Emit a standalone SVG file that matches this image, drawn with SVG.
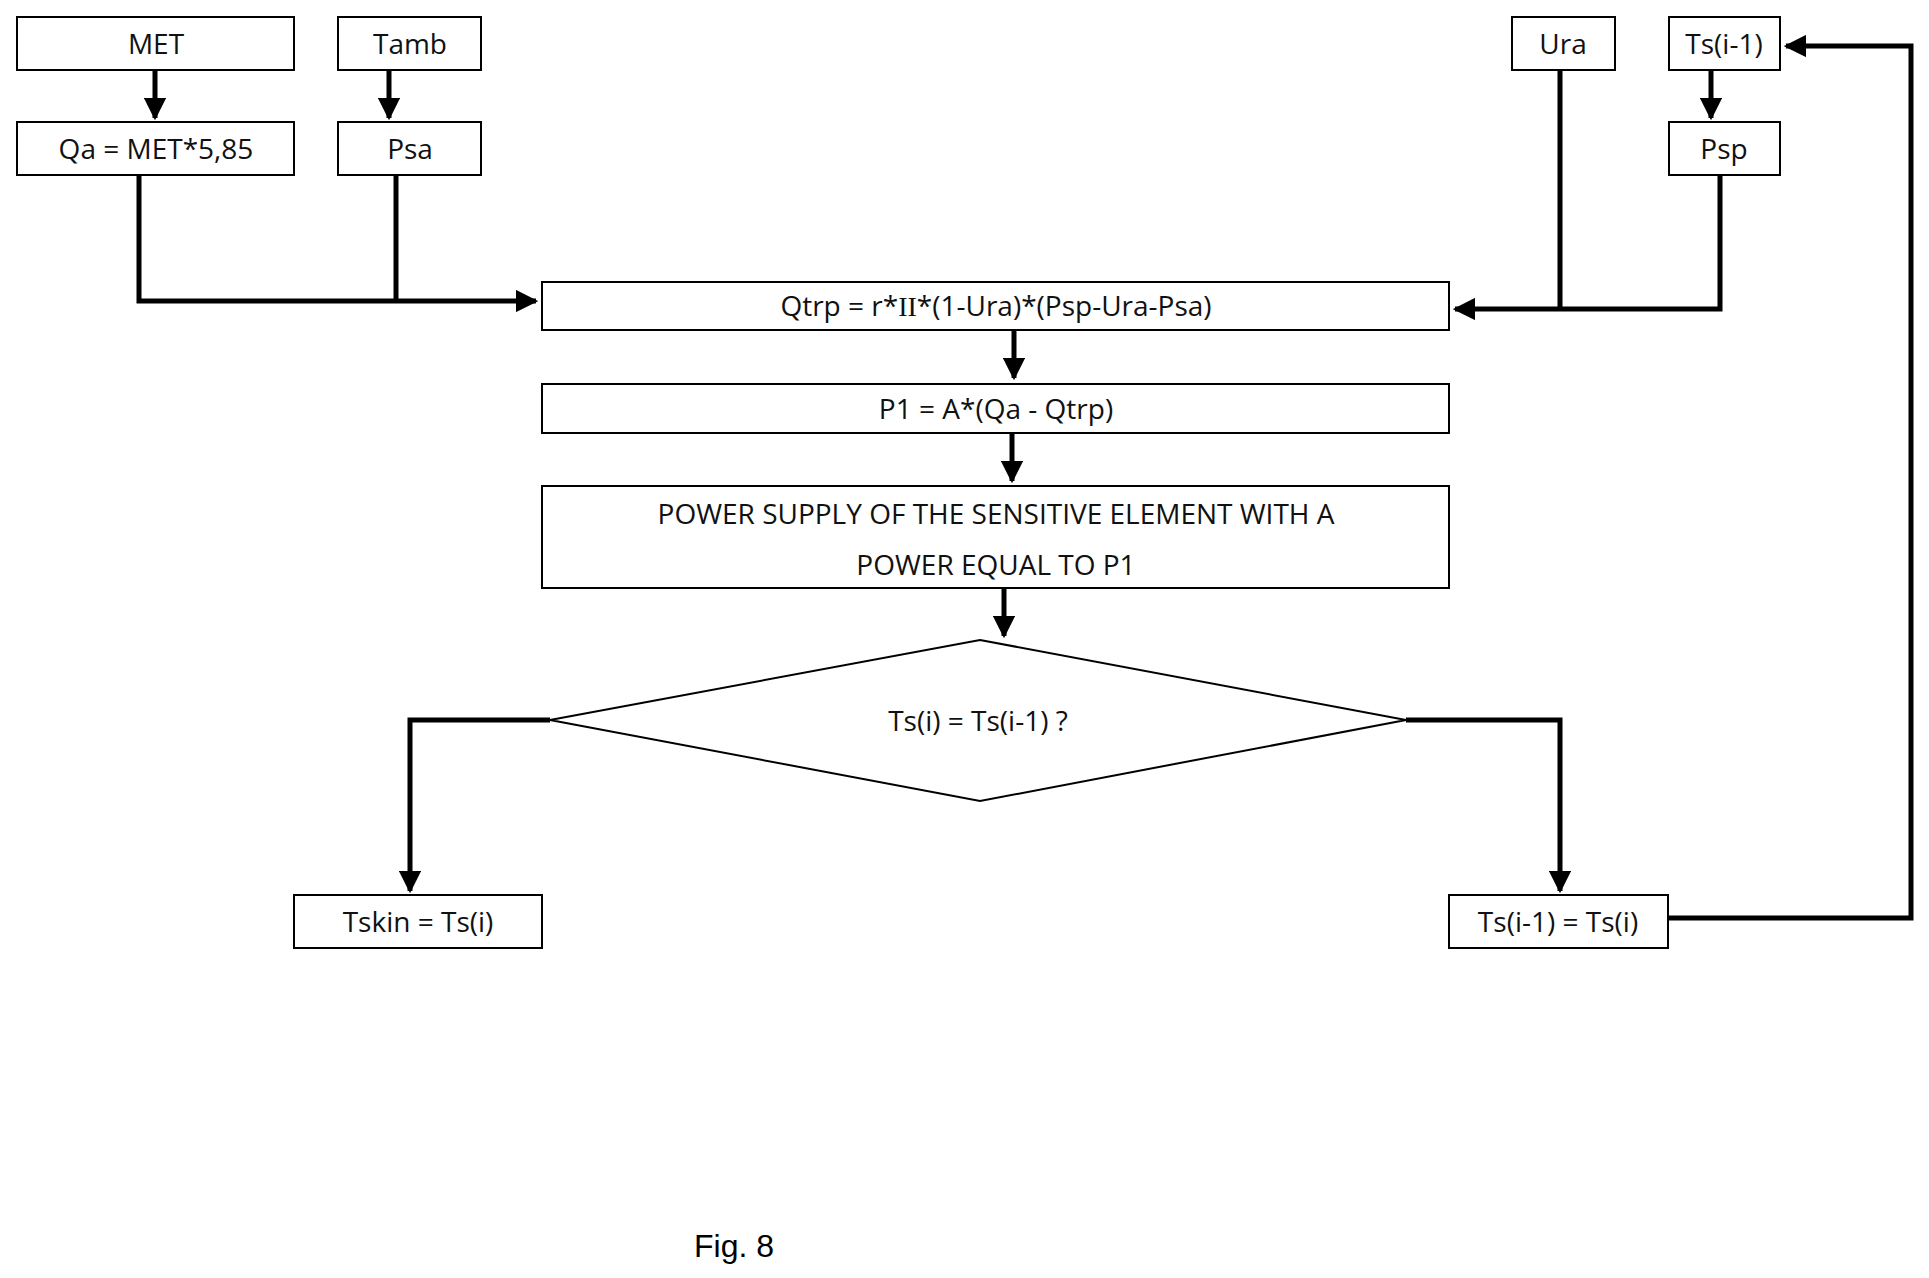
<svg xmlns="http://www.w3.org/2000/svg" width="1929" height="1278" viewBox="0 0 1929 1278">
<style>
.b{fill:#fff;stroke:#000;stroke-width:2}
.t{font-family:"Open Sans",sans-serif;font-size:28px;text-anchor:middle;fill:#111}
.c{fill:none;stroke:#000;stroke-width:5}
</style>
<defs><marker id="a" viewBox="0 0 10 10" refX="9" refY="5" markerWidth="4.5" markerHeight="4.5" orient="auto" markerUnits="strokeWidth"><path d="M0,0L10,5L0,10z" fill="#000"/></marker></defs>
<rect width="1929" height="1278" fill="#fff"/>
<g id="met"><rect class="b" x="17" y="17" width="277" height="53"/><text class="t" x="156" y="54">MET</text></g>
<g id="tamb"><rect class="b" x="338" y="17" width="143" height="53"/><text class="t" x="410" y="54">Tamb</text></g>
<g id="qa"><rect class="b" x="17" y="122" width="277" height="53"/><text class="t" x="156" y="159">Qa = MET*5,85</text></g>
<g id="psa"><rect class="b" x="338" y="122" width="143" height="53"/><text class="t" x="410" y="159">Psa</text></g>
<g id="ura"><rect class="b" x="1512" y="17" width="103" height="53"/><text class="t" x="1563" y="54">Ura</text></g>
<g id="tsi1"><rect class="b" x="1669" y="17" width="111" height="53"/><text class="t" x="1724" y="54">Ts(i-1)</text></g>
<g id="psp"><rect class="b" x="1669" y="122" width="111" height="53"/><text class="t" x="1724" y="159">Psp</text></g>
<g id="qtrp"><rect class="b" x="542" y="282" width="907" height="48"/><text class="t" x="996" y="316">Qtrp = r*<tspan font-family="Liberation Serif,serif">ΙΙ</tspan>*(1-Ura)*(Psp-Ura-Psa)</text></g>
<g id="p1"><rect class="b" x="542" y="384" width="907" height="49"/><text class="t" x="996" y="419">P1 = A*(Qa - Qtrp)</text></g>
<g id="power"><rect class="b" x="542" y="486" width="907" height="102"/><text class="t" x="996" y="524">POWER SUPPLY OF THE SENSITIVE ELEMENT WITH A</text><text class="t" x="996" y="575">POWER EQUAL TO P1</text></g>
<g id="decision"><polygon class="b" points="980,640 1406,720 980,801 550,720"/><text class="t" x="978" y="731">Ts(i) = Ts(i-1) ?</text></g>
<g id="tskin"><rect class="b" x="294" y="895" width="248" height="53"/><text class="t" x="418" y="932">Tskin = Ts(i)</text></g>
<g id="update"><rect class="b" x="1449" y="895" width="219" height="53"/><text class="t" x="1558" y="932">Ts(i-1) = Ts(i)</text></g>
<g id="connectors">
<path class="c" d="M155,70V118" marker-end="url(#a)"/>
<path class="c" d="M389,70V118" marker-end="url(#a)"/>
<path class="c" d="M139,175V301H536" marker-end="url(#a)"/>
<path class="c" d="M396,175V301"/>
<path class="c" d="M1720,175V309H1455" marker-end="url(#a)"/>
<path class="c" d="M1560,70V309"/>
<path class="c" d="M1711,70V118" marker-end="url(#a)"/>
<path class="c" d="M1014,330V378" marker-end="url(#a)"/>
<path class="c" d="M1012,433V481" marker-end="url(#a)"/>
<path class="c" d="M1004,588V636" marker-end="url(#a)"/>
<path class="c" d="M550,720H410V891" marker-end="url(#a)"/>
<path class="c" d="M1406,720H1560V891" marker-end="url(#a)"/>
<path class="c" d="M1668,918H1911V46H1786" marker-end="url(#a)"/>
</g>
<text x="734" y="1257" font-family="Liberation Sans,Arial,sans-serif" font-size="32" text-anchor="middle">Fig. 8</text>
</svg>
